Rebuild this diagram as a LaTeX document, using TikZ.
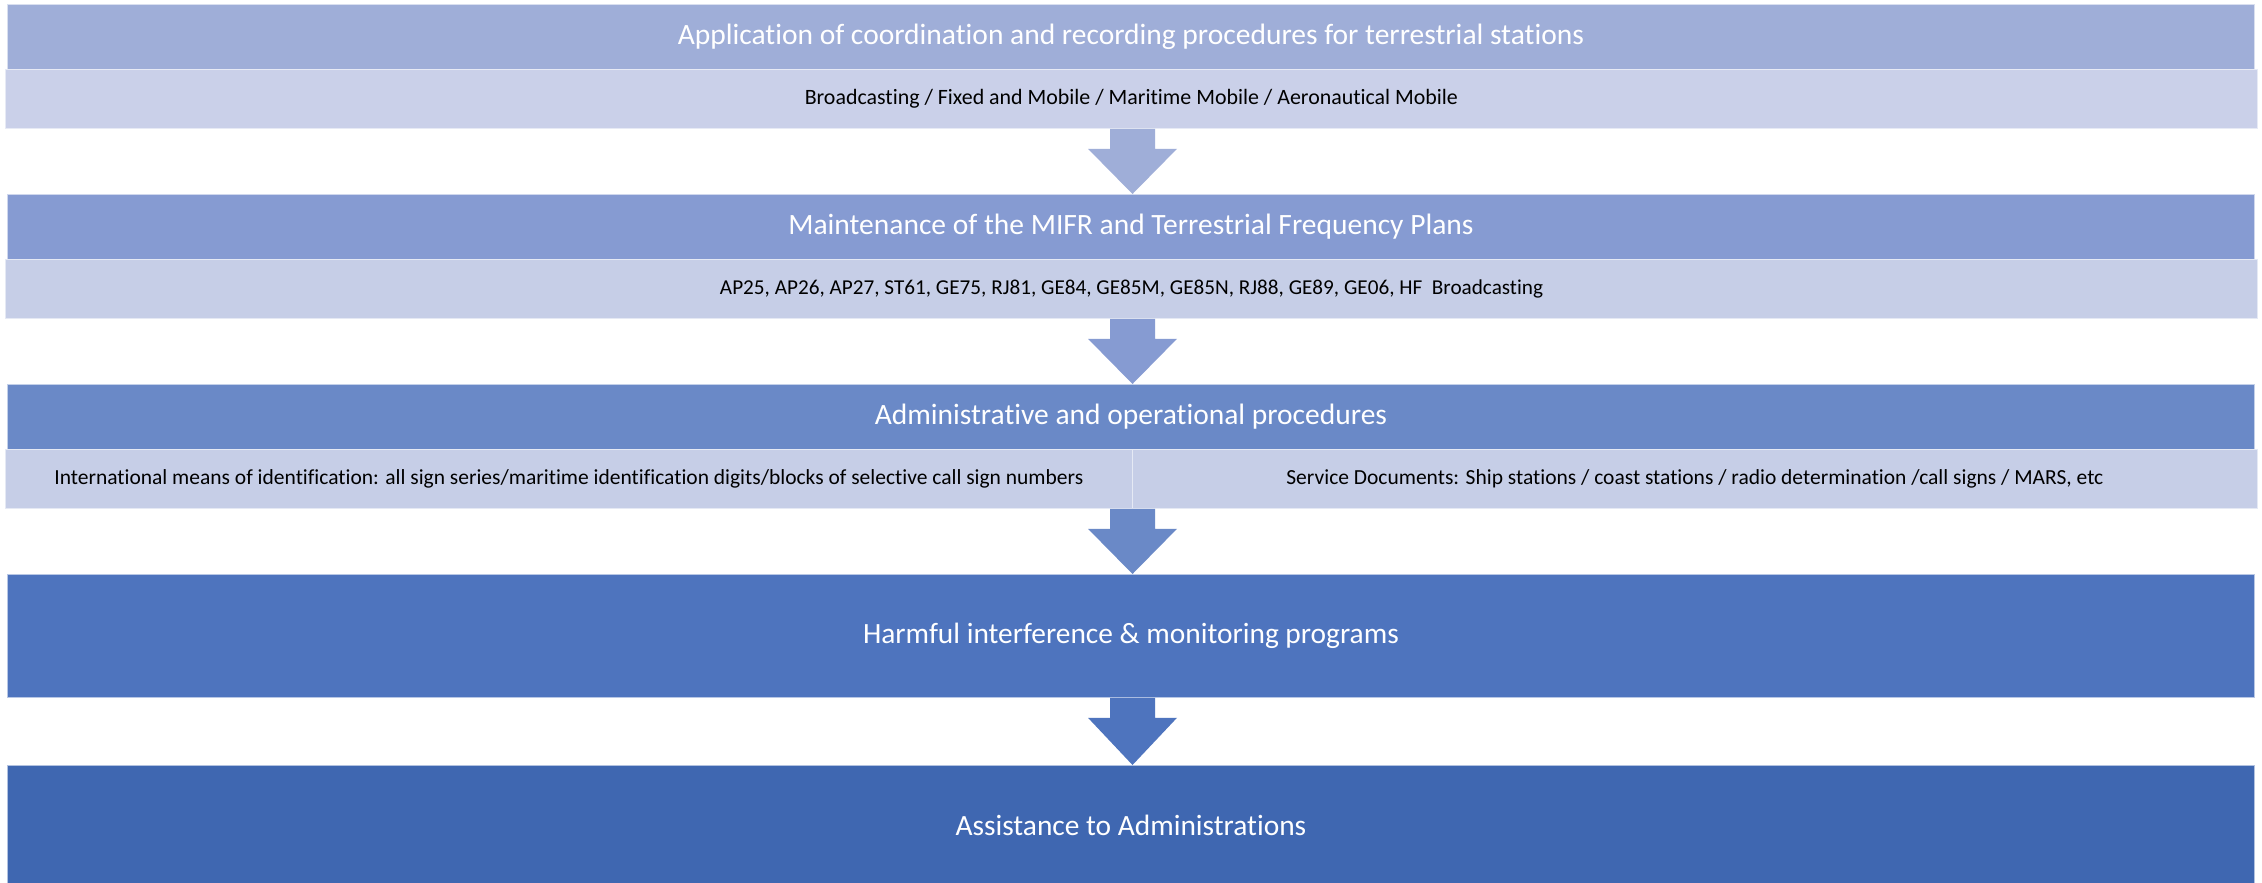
\documentclass[tikz,border=0pt]{standalone}
\usepackage{fontspec}
\setmainfont{Carlito}[Ligatures=NoCommon]
\usetikzlibrary{calc}
\definecolor{hA}{HTML}{9FAED8}
\definecolor{hB}{HTML}{869BD2}
\definecolor{hC}{HTML}{6A89C7}
\definecolor{hD}{HTML}{4E74BE}
\definecolor{hE}{HTML}{3F67B1}
\definecolor{sA}{HTML}{CAD0E9}
\definecolor{sB}{HTML}{C6CEE7}
\tikzset{
  hdr/.style={rectangle, anchor=north west, inner sep=0pt, text=white,
    font=\fontsize{29.5}{34}\selectfont, draw=white!60!#1, line width=0.8pt, fill=#1},
  big/.style={hdr=#1, font=\fontsize{29.4}{34}\selectfont},
  sub/.style={rectangle, anchor=north west, inner sep=0pt, text=black,
    font=\fontsize{21.5}{25}\selectfont, draw=white!55!#1, line width=0.8pt, fill=#1},
  barrow/.style={fill=#1}
}
\newcommand{\blockarr}[3]{%
  \fill[barrow=#3] ($(#1.south -| ax)+(-22.5,0)$) -- ++(45,0) -- ++(0,20) -- ++(22,0)
    -- (#2.north -| ax) -- ($(#1.south -| ax)+(-44.5,20)$) -- ++(22,0) -- cycle;}
\begin{document}
\begin{tikzpicture}[x=1pt,y=-1pt]
\useasboundingbox[fill=white] (0,0) rectangle (2262,883);
\coordinate (ax) at (1132.5,0);
% level 1
\node[hdr=hA, minimum width=2247pt, minimum height=65pt] (h1) at (7,4)
  {Application of coordination and recording procedures for terrestrial stations};
\node[sub=sA, minimum width=2252pt, minimum height=59pt, font=\fontsize{21.9}{25}\selectfont] (s1) at (5,69)
  {Broadcasting / Fixed and Mobile / Maritime Mobile / Aeronautical Mobile};
% level 2
\node[hdr=hB, minimum width=2247pt, minimum height=65pt] (h2) at (7,194)
  {Maintenance of the MIFR and Terrestrial Frequency Plans};
\node[sub=sB, minimum width=2252pt, minimum height=59pt, font=\fontsize{21.2}{25}\selectfont] (s2) at (5,259)
  {AP25, AP26, AP27, ST61, GE75, RJ81, GE84, GE85M, GE85N, RJ88, GE89, GE06, HF\ \ Broadcasting};
% level 3
\node[hdr=hC, minimum width=2247pt, minimum height=65pt] (h3) at (7,384)
  {Administrative and operational procedures};
\node[sub=sB, minimum width=1127pt, minimum height=59pt] (s3a) at (5,449)
  {International means of identification: all sign series/maritime identification digits/blocks of selective call sign numbers};
\node[sub=sB, minimum width=1125pt, minimum height=59pt] (s3b) at (1132,449)
  {Service Documents: Ship stations / coast stations / radio determination /call signs / MARS, etc};
% level 4
\node[big=hD, minimum width=2247pt, minimum height=123pt] (h4) at (7,574)
  {Harmful interference \& monitoring programs};
% level 5
\node[big=hE, minimum width=2247pt, minimum height=119pt] (h5) at (7,765)
  {Assistance to Administrations};
% arrows
\blockarr{s1}{h2}{hA}
\blockarr{s2}{h3}{hB}
\blockarr{s3a}{h4}{hC}
\blockarr{h4}{h5}{hD}
\end{tikzpicture}
\end{document}
